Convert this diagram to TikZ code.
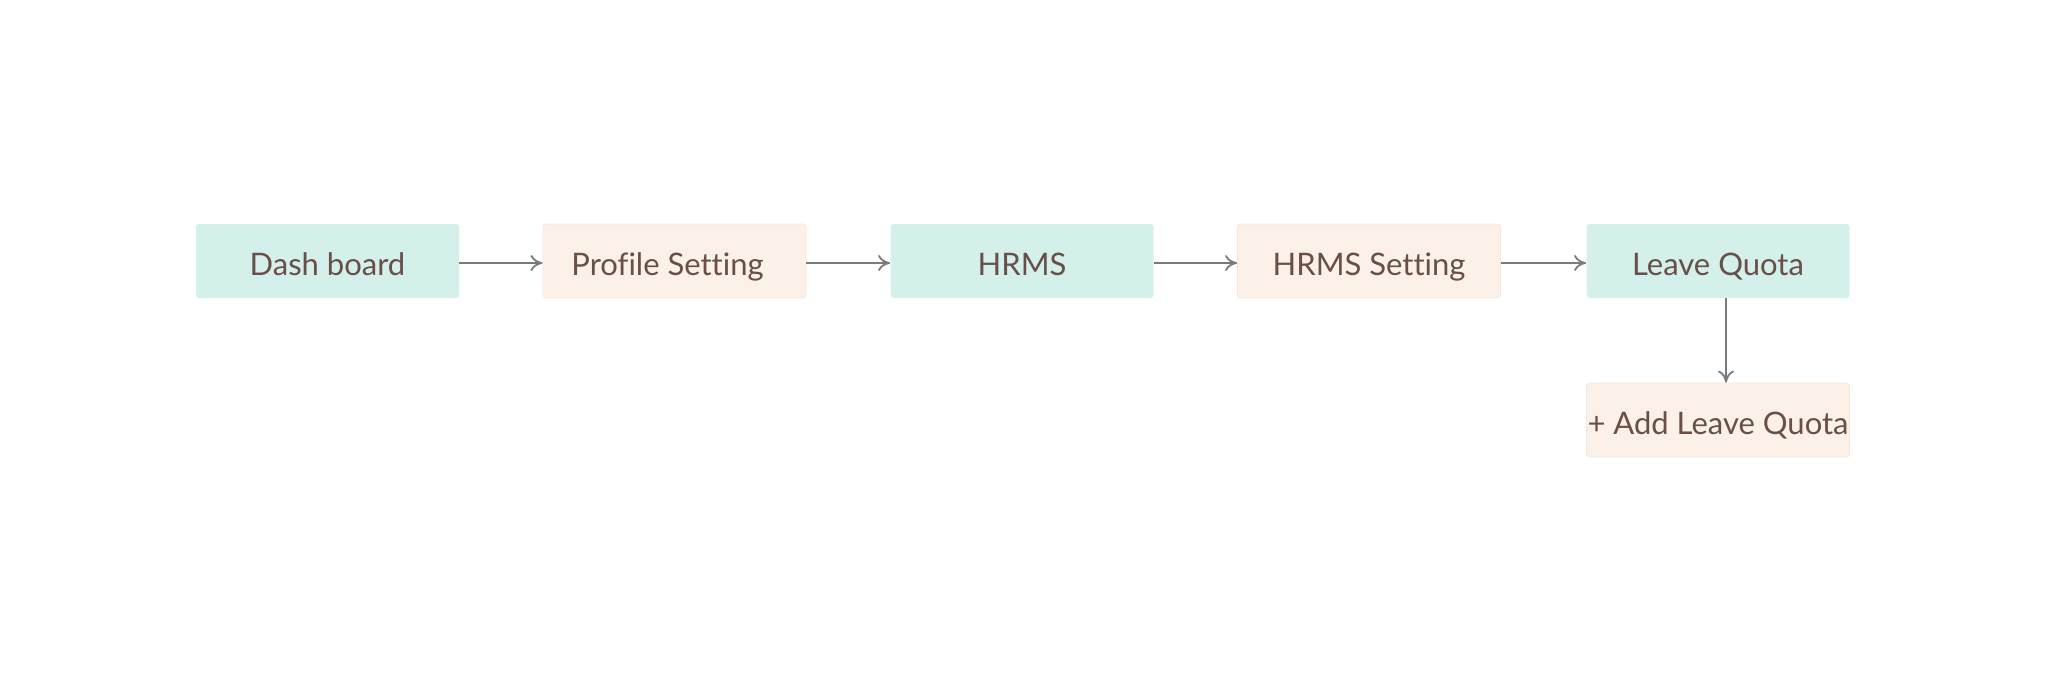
\documentclass[tikz,border=0pt]{standalone}
\usepackage{fontspec}
\setmainfont{Lato}[Ligatures=CommonOff]
\usetikzlibrary{arrows.meta}
\definecolor{teal}{HTML}{D3F0EB}
\definecolor{peach}{HTML}{FCF1E9}
\definecolor{peachline}{HTML}{F5E6DC}
\definecolor{txt}{HTML}{6A4E48}
\definecolor{arr}{HTML}{7A7A7A}
\begin{document}
\begin{tikzpicture}[x=0.5pt,y=-0.5pt,
  box/.style={minimum width=131.5pt,minimum height=37pt,inner sep=0pt,text height=14.5pt,text depth=0pt,rounded corners=1.5pt,text=txt,font=\fontsize{15.5}{18}\selectfont},
  tealbox/.style={box,fill=teal},
  peachbox/.style={box,fill=peach,draw=peachline,line width=0.4pt},
  conn/.style={draw=arr,line width=0.9pt,-{To[length=6pt,width=8pt]}}]
\useasboundingbox (0,0) rectangle (2048,682);
\node[tealbox]  (a) at (327.5,261) {Dash board};
\node[peachbox] (b) at (674.5,261) {Profile Setting\hspace*{7pt}};
\node[tealbox]  (c) at (1022,261) {HRMS};
\node[peachbox] (d) at (1369,261) {HRMS Setting};
\node[tealbox]  (e) at (1718,261) {Leave Quota};
\node[peachbox] (f) at (1718,420) {+ Add Leave Quota};
\draw[conn] ([yshift=-1pt]a.east) -- ([yshift=-1pt]b.west);
\draw[conn] ([yshift=-1pt]b.east) -- ([yshift=-1pt]c.west);
\draw[conn] ([yshift=-1pt]c.east) -- ([yshift=-1pt]d.west);
\draw[conn] ([yshift=-1pt]d.east) -- ([yshift=-1pt]e.west);
\draw[conn] ([xshift=4pt]e.south) -- ([xshift=4pt]f.north);
\end{tikzpicture}
\end{document}
